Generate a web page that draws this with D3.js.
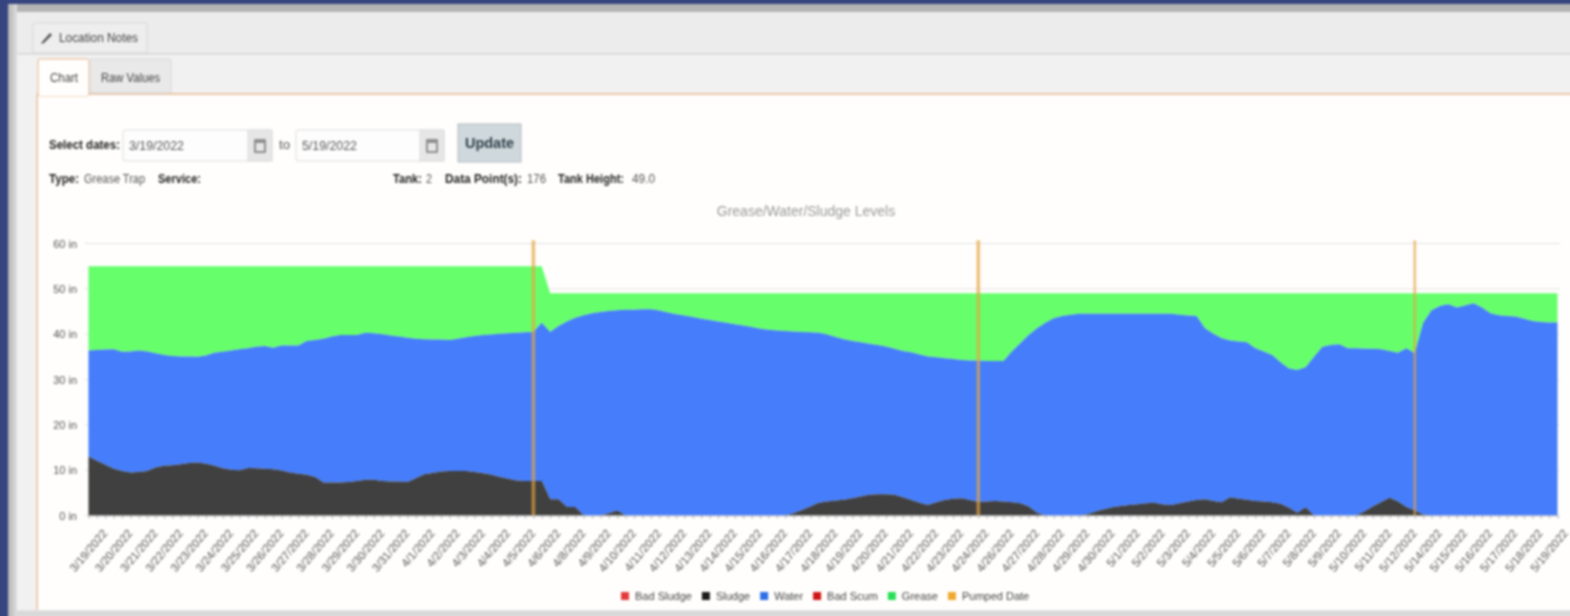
<!DOCTYPE html>
<html>
<head>
<meta charset="utf-8">
<title>Grease/Water/Sludge Levels</title>
<script src="https://cdn.jsdelivr.net/npm/d3@7"></script>
<style>
  html, body { margin: 0; padding: 0; background: #36457f; overflow: hidden; }
  #page { width: 1600px; height: 640px; filter: blur(0.8px); }
  svg { display: block; font-family: "Liberation Sans", Arial, sans-serif; }
</style>
</head>
<body>
<div id="page"></div>
<script>
const dayLabels = [
  "3/19/2022","3/20/2022","3/21/2022","3/22/2022","3/23/2022","3/24/2022","3/25/2022","3/26/2022","3/27/2022","3/28/2022",
  "3/29/2022","3/30/2022","3/31/2022","4/1/2022","4/2/2022","4/3/2022","4/4/2022","4/5/2022","4/6/2022","4/8/2022",
  "4/9/2022","4/10/2022","4/11/2022","4/12/2022","4/13/2022","4/14/2022","4/15/2022","4/16/2022","4/17/2022","4/18/2022",
  "4/19/2022","4/20/2022","4/21/2022","4/22/2022","4/23/2022","4/24/2022","4/26/2022","4/27/2022","4/28/2022","4/29/2022",
  "4/30/2022","5/1/2022","5/2/2022","5/3/2022","5/4/2022","5/5/2022","5/6/2022","5/7/2022","5/8/2022","5/9/2022",
  "5/10/2022","5/11/2022","5/12/2022","5/14/2022","5/15/2022","5/16/2022","5/17/2022","5/18/2022","5/19/2022"
];

// 176 readings, three a day. Levels are the top of each band, in inches
const sludgeLevel = [
  13.0,12.1,11.2,10.3,9.8,9.5,9.6,9.8,10.6,11.0,
  11.1,11.3,11.6,11.7,11.4,11.0,10.4,10.1,10.0,10.5,
  10.4,10.3,10.2,9.9,9.5,9.2,9.0,8.5,7.3,7.3,
  7.3,7.4,7.6,7.9,7.9,7.6,7.5,7.5,7.4,8.2,
  9.1,9.4,9.7,9.8,9.8,9.8,9.6,9.3,9.0,8.5,
  8.1,7.7,7.6,7.6,7.6,3.6,3.6,1.9,1.9,0,
  0,0,0.5,1.1,0,0,0,0,0,0,
  0,0,0,0,0,0,0,0,0,0,
  0,0,0,0,0.5,1.2,2.0,2.8,3.1,3.3,
  3.5,3.8,4.2,4.6,4.7,4.7,4.6,4.0,3.4,2.8,
  2.3,2.9,3.4,3.7,3.8,3.4,3.0,3.1,3.2,3.1,
  2.9,2.7,2.0,0.6,0,0,0,0,0,0.3,
  0.9,1.4,1.8,2.1,2.3,2.5,2.7,2.8,2.4,2.3,
  2.7,3.1,3.4,3.6,3.2,2.9,4.0,3.7,3.5,3.2,
  3.1,2.9,2.6,1.7,0.6,1.8,0,0,0,0,
  0,0,0.9,2.0,3.0,3.9,3.1,1.9,1.1,0.2,
  0,0,0,0,0,0,0,0,0,0,
  0,0,0,0,0,0
];
const waterLevel = [
  36.4,36.5,36.6,36.7,36.1,36.2,36.4,36.2,35.8,35.4,
  35.2,35.1,35.1,35.0,35.3,35.9,36.1,36.4,36.7,36.9,
  37.2,37.4,37.0,37.5,37.5,37.5,38.5,38.7,39.0,39.5,
  39.8,39.8,39.8,40.3,40.2,40.0,39.7,39.5,39.2,39.0,
  38.9,38.8,38.8,38.7,39.0,39.3,39.6,39.8,39.9,40.1,
  40.2,40.3,40.4,40.5,42.5,40.5,41.8,42.8,43.6,44.2,
  44.6,44.9,45.1,45.3,45.4,45.4,45.5,45.5,45.2,44.8,
  44.4,44.1,43.8,43.4,43.1,42.8,42.5,42.2,41.9,41.6,
  41.2,41.0,40.8,40.7,40.6,40.5,40.4,40.3,39.9,39.4,
  38.9,38.5,38.2,37.9,37.6,37.3,36.8,36.3,36.0,35.5,
  35.1,34.9,34.7,34.5,34.3,34.2,34.2,34.1,34.1,34.1,
  36.2,38.0,39.8,41.3,42.5,43.5,44.0,44.3,44.5,44.5,
  44.5,44.5,44.5,44.5,44.5,44.5,44.5,44.5,44.5,44.5,
  44.3,44.1,44.0,41.3,40.1,39.1,38.6,38.4,38.2,36.9,
  36.2,35.4,33.8,32.4,32.1,32.7,35.0,37.2,37.6,37.8,
  36.9,36.9,36.8,36.8,36.7,36.3,35.9,36.9,35.8,42.5,
  45.3,46.2,46.6,45.9,46.3,46.8,45.9,44.6,44.2,44.0,
  43.9,43.4,42.9,42.7,42.6,42.6
];
const greaseLevel = [
  55,55,55,55,55,55,55,55,55,55,55,55,55,55,55,55,55,55,55,55,
  55,55,55,55,55,55,55,55,55,55,55,55,55,55,55,55,55,55,55,55,
  55,55,55,55,55,55,55,55,55,55,55,55,55,55,55,49,49,49,49,49,
  49,49,49,49,49,49,49,49,49,49,49,49,49,49,49,49,49,49,49,49,
  49,49,49,49,49,49,49,49,49,49,49,49,49,49,49,49,49,49,49,49,
  49,49,49,49,49,49,49,49,49,49,49,49,49,49,49,49,49,49,49,49,
  49,49,49,49,49,49,49,49,49,49,49,49,49,49,49,49,49,49,49,49,
  49,49,49,49,49,49,49,49,49,49,49,49,49,49,49,49,49,49,49,49,
  49,49,49,49,49,49,49,49,49,49,49,49,49,49,49,49
];
// reading index of each pump-out
const pumpedReadings = [53, 106, 158];
const yTicks = [0, 10, 20, 30, 40, 50, 60];
const legendNames = ["Bad Sludge", "Sludge", "Water", "Bad Scum", "Grease", "Pumped Date"];
const legendColors = ["#e23b3b", "#1c1c1c", "#2f6fe8", "#cf1616", "#27df55", "#f0a92e"];

// drawn a little past the window so the page blur does not darken the right and bottom edges
const svg = d3.select("#page").append("svg")
  .attr("width", 1600)
  .attr("height", 640);

// page furniture
function box(x, y, w, h, fill, stroke) {
  return svg.append("rect")
    .attr("x", x).attr("y", y).attr("width", w).attr("height", h)
    .attr("fill", fill).attr("stroke", stroke || "none");
}
function label(x, y, txt, w, opts) {
  opts = opts || {};
  const t = svg.append("text")
    .attr("x", x).attr("y", y)
    .attr("font-size", opts.size || 12)
    .attr("font-weight", opts.bold ? "bold" : "normal")
    .attr("fill", opts.color || "#555")
    .text(txt);
  if (w) t.attr("textLength", w).attr("lengthAdjust", "spacingAndGlyphs");
  return t;
}

const strip = svg.append("defs").append("linearGradient").attr("id", "strip");
strip.append("stop").attr("offset", "0%").attr("stop-color", "#b4b4b4");
strip.append("stop").attr("offset", "100%").attr("stop-color", "#dedede");

box(8, 4, 1592, 636, "#d9d9d9");
box(8, 4, 1592, 8, "#b4b4b4");
box(8, 4, 9, 636, "url(#strip)");
box(17, 12, 1583, 41, "#ececec");
box(17, 53, 1583, 1.5, "#d4d4d4");
box(17, 54.5, 1583, 556, "#f1f1f1");
box(37, 94, 1563, 516, "#fffefd");
box(37, 93, 1563, 2, "#ebc7a8");
box(36.5, 94, 1.5, 516, "#f0bd9a");

box(33, 23, 114, 30, "#eeeeee", "#d6d6d6").attr("rx", 2);
svg.append("path").attr("d", "M42 42 L50 33 L52 35 L44 43 L41 44 Z").attr("fill", "#555");
label(59, 42, "Location Notes", 79, { size: 13, color: "#444" });

box(38, 59, 51, 37, "#fffefd", "#e8b48c").attr("rx", 2);
box(39, 90, 49, 6, "#fffefd");
label(50, 82, "Chart", 28, { size: 13, color: "#444" });
box(90, 59, 81, 34, "#e9e9e9", "#d8d8d8").attr("rx", 2);
label(101, 82, "Raw Values", 59, { size: 13, color: "#444" });

label(49, 149, "Select dates:", 71, { size: 13, bold: true, color: "#222" });
box(123, 130, 149, 31, "#fdfdfd", "#dddddd").attr("rx", 2);
box(248, 130, 24, 31, "#e6e6e6", "#dddddd");
box(254, 139, 12, 14, "#8f8f8f").attr("rx", 1);
box(256, 143, 8, 8, "#e6e6e6");
label(129, 150, "3/19/2022", 55, { size: 13, color: "#555" });
label(279, 149, "to", 11, { size: 13, color: "#555" });
box(296, 130, 148, 31, "#fdfdfd", "#dddddd").attr("rx", 2);
box(420, 130, 24, 31, "#e6e6e6", "#dddddd");
box(426, 139, 12, 14, "#8f8f8f").attr("rx", 1);
box(428, 143, 8, 8, "#e6e6e6");
label(302, 150, "5/19/2022", 55, { size: 13, color: "#555" });
box(458, 124, 63, 38, "#cfd8dc", "#b4bcc0");
label(465, 148, "Update", 49, { size: 15, bold: true, color: "#2f3f47" });

label(49, 183, "Type:", 30, { size: 13, bold: true, color: "#222" });
label(84, 183, "Grease Trap", 61, { size: 13, color: "#555" });
label(158, 183, "Service:", 43, { size: 13, bold: true, color: "#222" });
label(393, 183, "Tank:", 29, { size: 13, bold: true, color: "#222" });
label(426, 183, "2", 6, { size: 13, color: "#555" });
label(445, 183, "Data Point(s):", 77, { size: 13, bold: true, color: "#222" });
label(527, 183, "176", 19, { size: 13, color: "#555" });
label(558, 183, "Tank Height:", 66, { size: 13, bold: true, color: "#222" });
label(632, 183, "49.0", 23, { size: 12, color: "#555" });

// chart
const readings = d3.range(sludgeLevel.length);

const x = d3.scalePoint()
  .domain(readings)
  .range([88.5, 1557.5]);

const y = d3.scaleLinear()
  .domain([0, 60])
  .range([515.5, 243.5]);

svg.append("text")
  .attr("x", 806)
  .attr("y", 216)
  .attr("text-anchor", "middle")
  .attr("font-size", 14)
  .attr("fill", "#999")
  .text("Grease/Water/Sludge Levels");

svg.append("g")
  .selectAll("line")
  .data(yTicks)
  .enter().append("line")
  .attr("x1", 85)
  .attr("x2", 1560)
  .attr("y1", d => y(d))
  .attr("y2", d => y(d))
  .attr("stroke", "#e4e4e4");

const band = (lower, upper) => d3.area()
  .x(i => x(i))
  .y0(i => y(lower ? lower[i] : 0))
  .y1(i => y(upper[i]));

svg.append("path").datum(readings).attr("fill", "#66ff6b").attr("d", band(waterLevel, greaseLevel));
svg.append("path").datum(readings).attr("fill", "#457dfb").attr("d", band(sludgeLevel, waterLevel));
svg.append("path").datum(readings).attr("fill", "#404040").attr("d", band(null, sludgeLevel));

svg.append("g")
  .selectAll("line")
  .data(pumpedReadings)
  .enter().append("line")
  .attr("x1", d => x(d))
  .attr("x2", d => x(d))
  .attr("y1", y(60.7))
  .attr("y2", y(0))
  .attr("stroke", "#e6a33f")
  .attr("stroke-opacity", 0.68)
  .attr("stroke-width", (d, i) => i === 2 ? 2.6 : 3.6);

const yAxis = d3.axisLeft(y)
  .tickValues(yTicks)
  .tickSize(0)
  .tickPadding(8)
  .tickFormat(d => d + " in");

svg.append("g")
  .attr("transform", "translate(85,0)")
  .call(yAxis)
  .call(g => g.select(".domain").remove())
  .selectAll("text")
  .attr("font-size", 11)
  .attr("font-family", "Liberation Sans")
  .attr("fill", "#555");

const xAxis = d3.axisBottom(x)
  .tickSize(3)
  .tickSizeOuter(0)
  .tickFormat(i => i % 3 === 0 ? dayLabels[i / 3] : "");

const xg = svg.append("g")
  .attr("transform", `translate(0,${y(0)})`)
  .call(xAxis);

xg.select(".domain").attr("stroke", "#c8c8c8");
xg.selectAll("line").attr("stroke", "#aaaaaa");
xg.selectAll("text")
  .attr("font-size", 11.5)
  .attr("font-family", "Liberation Sans")
  .attr("fill", "#555")
  .attr("text-anchor", "end")
  .attr("dy", 0)
  .attr("y", 0)
  .attr("transform", "translate(19,18) rotate(-50)");

// legend, laid out left to right from the text widths
let legendX = 621;
legendNames.forEach((name, i) => {
  svg.append("rect")
    .attr("x", legendX)
    .attr("y", 592)
    .attr("width", 8)
    .attr("height", 8)
    .attr("fill", legendColors[i]);
  const t = svg.append("text")
    .attr("x", legendX + 14)
    .attr("y", 600)
    .attr("font-size", 11)
    .attr("fill", "#444")
    .text(name);
  legendX += 14 + t.node().getComputedTextLength() + 10;
});
</script>
</body>
</html>
